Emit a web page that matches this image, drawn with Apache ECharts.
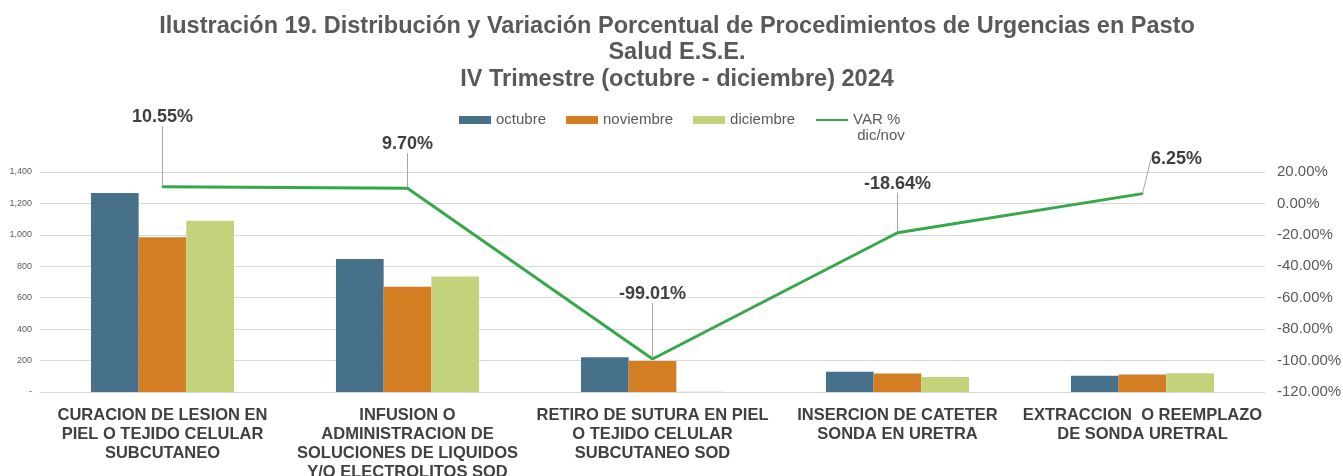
<!DOCTYPE html>
<html>
<head>
<meta charset="utf-8">
<script src="https://cdn.jsdelivr.net/npm/echarts@6/dist/echarts.min.js"></script>
<style>
  html, body { margin: 0; padding: 0; background: #fff; }
  #chart { width: 1343px; height: 476px; }
</style>
</head>
<body>
<div id="chart"></div>
<script>
const categories = [
  'CURACION DE LESION EN\nPIEL O TEJIDO CELULAR\nSUBCUTANEO',
  'INFUSION O\nADMINISTRACION DE\nSOLUCIONES DE LIQUIDOS\nY/O ELECTROLITOS SOD',
  'RETIRO DE SUTURA EN PIEL\nO TEJIDO CELULAR\nSUBCUTANEO SOD',
  'INSERCION DE CATETER\nSONDA EN URETRA',
  'EXTRACCION  O REEMPLAZO\nDE SONDA URETRAL'
];
const octubre = [1267, 847, 221, 129, 104];
const noviembre = [985, 670, 197, 118, 112];
const diciembre = [1089, 735, 2, 96, 119];
const varPct = [10.55, 9.70, -99.01, -18.64, 6.25];

// label offsets for the VAR % callouts
const labelShift = [[0, -55], [0, -29], [0, -50], [0, -34], [34, -20]];

const colors = ['#47708a', '#d47e24', '#c3d37c', '#37a84a'];
const font = '"Liberation Sans", Arial, sans-serif';

const chart = echarts.init(document.getElementById('chart'));
chart.setOption({
  color: colors,
  animation: false,
  title: {
    text: 'Ilustración 19. Distribución y Variación Porcentual de Procedimientos de Urgencias en Pasto\nSalud E.S.E.\nIV Trimestre (octubre - diciembre) 2024',
    left: 672,
    textAlign: 'center',
    top: 8,
    textStyle: { fontFamily: font, fontSize: 23.5, fontWeight: 'bold', color: '#595959', lineHeight: 26.5 }
  },
  legend: {
    left: 454,
    top: 91,
    itemWidth: 32,
    itemHeight: 8,
    itemGap: 20,
    textStyle: { fontFamily: font, fontSize: 15, color: '#595959', lineHeight: 16 },
    formatter: function (name) {
      // blank first line keeps "VAR %" level with the other entries
      return name === 'VAR % dic/nov' ? '\nVAR %\n dic/nov' : name;
    },
    data: [
      { name: 'octubre', icon: 'rect' },
      { name: 'noviembre', icon: 'rect' },
      { name: 'diciembre', icon: 'rect' },
      { name: 'VAR % dic/nov', itemStyle: { opacity: 0 } }
    ]
  },
  grid: { left: 40, right: 78, top: 172, bottom: 84, outerBoundsMode: 'none' },
  xAxis: {
    type: 'category',
    data: categories,
    axisTick: { show: false },
    axisLine: { lineStyle: { color: '#d9d9d9' } },
    axisLabel: {
      interval: 0,
      margin: 14,
      fontFamily: font,
      fontSize: 16.5,
      fontWeight: 'bold',
      color: '#404040',
      lineHeight: 19
    }
  },
  yAxis: [
    {
      type: 'value',
      min: 0,
      max: 1400,
      interval: 200,
      axisLine: { show: false },
      axisTick: { show: false },
      splitLine: { lineStyle: { color: '#d9d9d9' } },
      axisLabel: {
        fontFamily: font,
        fontSize: 9,
        color: '#595959',
        margin: 8,
        formatter: function (v) { return v === 0 ? '-' : v.toLocaleString('en-US'); }
      }
    },
    {
      type: 'value',
      min: -120,
      max: 20,
      interval: 20,
      position: 'right',
      axisLine: { show: false },
      axisTick: { show: false },
      splitLine: { show: false },
      axisLabel: {
        fontFamily: font,
        fontSize: 15,
        color: '#595959',
        margin: 12,
        formatter: function (v) { return v.toFixed(2) + '%'; }
      }
    }
  ],
  series: [
    { name: 'octubre', type: 'bar', data: octubre, barGap: 0, barCategoryGap: '41.6%' },
    { name: 'noviembre', type: 'bar', data: noviembre, barGap: 0, barCategoryGap: '41.6%' },
    { name: 'diciembre', type: 'bar', data: diciembre, barGap: 0, barCategoryGap: '41.6%' },
    {
      name: 'VAR % dic/nov',
      type: 'line',
      yAxisIndex: 1,
      data: varPct,
      symbol: 'circle',
      symbolSize: 2,
      lineStyle: { width: 3, color: colors[3] },
      itemStyle: { color: colors[3] },
      z: 5,
      label: {
        show: true,
        position: 'top',
        fontFamily: font,
        fontSize: 18,
        fontWeight: 'bold',
        color: '#404040',
        formatter: function (p) { return p.value.toFixed(2) + '%'; }
      },
      labelLine: { show: true, lineStyle: { color: '#a6a6a6', width: 1 } },
      labelLayout: function (p) {
        const s = labelShift[p.dataIndex];
        return { dx: s[0], dy: s[1] };
      }
    }
  ]
});
</script>
</body>
</html>
